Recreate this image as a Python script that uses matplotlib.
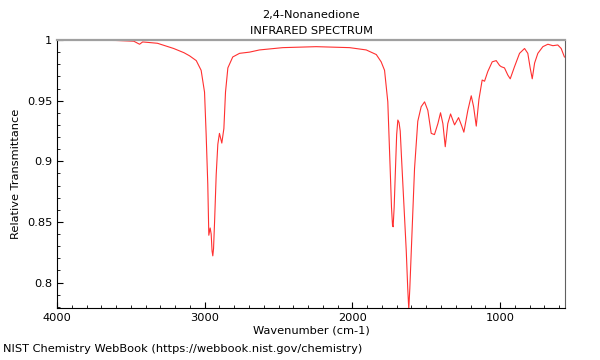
import numpy as np
import matplotlib.pyplot as plt
from matplotlib.ticker import MultipleLocator, FixedLocator, FixedFormatter

wavenumber = [4000, 3800, 3600, 3480, 3441, 3420, 3320, 3210, 3140, 3103, 3057, 3024,
              3001, 2990, 2979, 2972, 2963, 2956, 2950, 2945, 2940, 2933, 2922, 2911,
              2900, 2884, 2870, 2859, 2843, 2810, 2764, 2696, 2629, 2471, 2245, 2019,
              1906, 1838, 1805, 1782, 1760, 1744, 1735, 1728, 1724, 1717, 1708, 1700,
              1692, 1684, 1676, 1668, 1658, 1635, 1625, 1618, 1611, 1601, 1579, 1557,
              1534, 1511, 1489, 1466, 1444, 1421, 1403, 1387, 1371, 1354, 1335, 1308,
              1281, 1259, 1245, 1218, 1195, 1179, 1161, 1143, 1121, 1105, 1083, 1053,
              1026, 1003, 992, 970, 947, 931, 902, 868, 834, 812, 796, 782, 766, 744,
              710, 676, 642, 609, 586, 564]
transmittance = [0.9997, 0.9998, 0.9996, 0.9990, 0.9965, 0.9984, 0.9973, 0.9930, 0.9895,
                 0.9870, 0.9830, 0.9750, 0.9570, 0.9220, 0.8810, 0.8390, 0.8450, 0.8400,
                 0.8260, 0.8220, 0.8280, 0.8500, 0.8890, 0.9140, 0.9230, 0.9150, 0.9270,
                 0.9570, 0.9770, 0.9860, 0.9890, 0.9900, 0.9918, 0.9937, 0.9945, 0.9937,
                 0.9918, 0.9880, 0.9820, 0.9750, 0.9490, 0.8940, 0.8620, 0.8470, 0.8460,
                 0.8620, 0.8940, 0.9220, 0.9340, 0.9320, 0.9250, 0.9050, 0.8810, 0.8260,
                 0.7950, 0.7780, 0.7950, 0.8260, 0.8940, 0.9330, 0.9450, 0.9490, 0.9420,
                 0.9230, 0.9220, 0.9310, 0.9400, 0.9310, 0.9120, 0.9310, 0.9390, 0.9300,
                 0.9360, 0.9290, 0.9240, 0.9420, 0.9540, 0.9450, 0.9290, 0.9510, 0.9670,
                 0.9660, 0.9740, 0.9820, 0.9830, 0.9790, 0.9780, 0.9770, 0.9710, 0.9680,
                 0.9780, 0.9890, 0.9930, 0.9890, 0.9770, 0.9680, 0.9810, 0.9890, 0.9945,
                 0.9965, 0.9953, 0.9959, 0.9930, 0.9860]

ytick_vals = [0.8, 0.85, 0.9, 0.95, 1.0]
ytick_labels = ["0.8", "0.85", "0.9", "0.95", "1"]
xtick_vals = [4000, 3000, 2000, 1000]

fig = plt.figure(figsize=(6, 3.6), dpi=100, facecolor="white")
ax = fig.add_axes([0.095, 0.1444, 0.8467, 0.7445])

ax.plot(wavenumber, transmittance, color="#ff3030", lw=0.8)

ax.set_xlim(4000, 560)
ax.set_ylim(0.779, 1.0)
ax.xaxis.set_major_locator(FixedLocator(xtick_vals))
ax.xaxis.set_minor_locator(MultipleLocator(100))
ax.yaxis.set_major_locator(FixedLocator(ytick_vals))
ax.yaxis.set_major_formatter(FixedFormatter(ytick_labels))
ax.yaxis.set_minor_locator(MultipleLocator(0.01))
ax.tick_params(which="both", direction="in", top=False, right=False, labelsize=8.2)
ax.tick_params(which="major", length=4)
ax.tick_params(which="minor", length=2)

ax.spines["top"].set_color("#a0a0a0")
ax.spines["top"].set_linewidth(1.6)
ax.spines["right"].set_color("#606060")

ax.set_xlabel("Wavenumber (cm-1)", fontsize=8.2, labelpad=2)
ax.set_ylabel("Relative Transmittance", fontsize=8.2)
ax.set_title("2,4-Nonanedione\nINFRARED SPECTRUM", fontsize=8.2, linespacing=1.75, pad=4)
fig.text(0.005, 0.022, "NIST Chemistry WebBook (https://webbook.nist.gov/chemistry)",
         fontsize=8.2, ha="left")

plt.savefig("out.png", dpi=100, facecolor="white")
